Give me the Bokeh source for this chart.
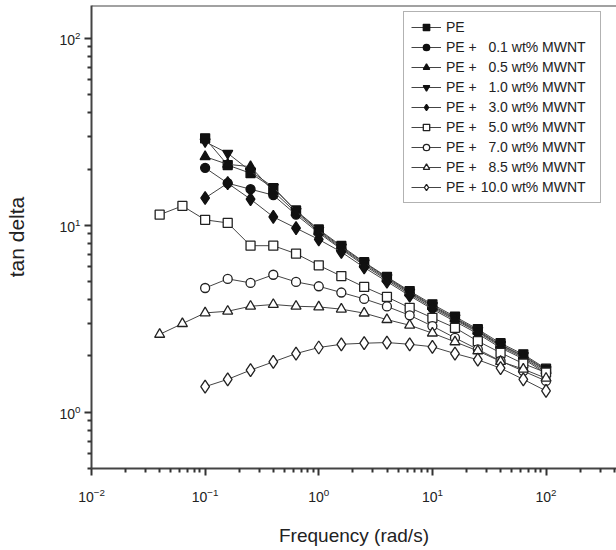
from bokeh.plotting import figure
from bokeh.models import Span, Legend, LegendItem, FixedTicker
from bokeh.embed import file_html
from bokeh.resources import INLINE

# ---- data ----
freq = [0.1, 0.158, 0.251, 0.398, 0.631, 1.0, 1.58, 2.51, 3.98, 6.31,
        10.0, 15.8, 25.1, 39.8, 63.1, 100.0]
freq_ext = [0.0398, 0.0631] + freq

pe = [29.2, 21.0, 19.0, 15.8, 12.0, 9.5, 7.75, 6.35, 5.3, 4.45,
      3.78, 3.25, 2.78, 2.34, 2.04, 1.71]
pe_01 = [20.3, 16.8, 15.6, 14.5, 11.4, 9.1, 7.45, 6.1, 5.1, 4.28,
         3.62, 3.12, 2.68, 2.25, 1.96, 1.64]
pe_05 = [23.3, 21.2, 20.6, 15.2, 11.7, 9.25, 7.55, 6.2, 5.18, 4.35,
         3.68, 3.16, 2.71, 2.28, 1.99, 1.67]
pe_10 = [28.0, 24.3, 19.5, 16.0, 11.9, 9.4, 7.65, 6.3, 5.25, 4.4,
         3.72, 3.2, 2.74, 2.3, 2.01, 1.69]
pe_30 = [14.0, 16.8, 13.8, 11.1, 9.66, 8.4, 7.2, 5.95, 5.0, 4.2,
         3.56, 3.06, 2.63, 2.21, 1.93, 1.61]
pe_50 = [11.4, 12.7, 10.7, 10.3, 7.78, 7.78, 7.05, 6.11, 5.35, 4.68,
         4.14, 3.62, 3.2, 2.83, 2.4, 2.08, 1.82, 1.63]
pe_70 = [4.62, 5.17, 4.92, 5.44, 4.98, 4.72, 4.37, 4.04, 3.68, 3.3,
         2.89, 2.5, 2.17, 1.88, 1.66, 1.47]
pe_85 = [2.61, 2.98, 3.40, 3.47, 3.69, 3.77, 3.69, 3.66, 3.56, 3.39,
         3.13, 2.92, 2.65, 2.38, 2.13, 1.87, 1.70, 1.52]
pe_100 = [1.37, 1.50, 1.68, 1.86, 2.06, 2.22, 2.31, 2.34, 2.36, 2.31,
          2.24, 2.06, 1.91, 1.72, 1.50, 1.30]

labels = ["PE",
          "PE + \u20070.1 wt% MWNT",
          "PE + \u20070.5 wt% MWNT",
          "PE + \u20071.0 wt% MWNT",
          "PE + \u20073.0 wt% MWNT",
          "PE + \u20075.0 wt% MWNT",
          "PE + \u20077.0 wt% MWNT",
          "PE + \u20078.5 wt% MWNT",
          "PE + 10.0 wt% MWNT"]

x_major = [0.01, 0.1, 1, 10, 100]
y_major = [1, 10, 100]
mults = [2, 3, 4, 5, 6, 7, 8, 9]

series = [
    (freq, pe, "square", 9, True),
    (freq, pe_01, "circle", 9, True),
    (freq, pe_05, "triangle", 10, True),
    (freq, pe_10, "inverted_triangle", 10, True),
    (freq, pe_30, "diamond", 13, True),
    (freq_ext, pe_50, "square", 9, False),
    (freq, pe_70, "circle", 9, False),
    (freq_ext, pe_85, "triangle", 10, False),
    (freq, pe_100, "diamond", 13, False),
]

FONT = "Liberation Sans"
AX = "#444444"
TXT = "#222222"

p = figure(width=616, height=550, x_axis_type="log", y_axis_type="log",
           x_range=(0.01, 417), y_range=(0.5, 150),
           output_backend="svg", toolbar_location=None,
           min_border_left=91, min_border_right=0,
           min_border_top=5, min_border_bottom=82)
p.xgrid.visible = False
p.ygrid.visible = False
p.outline_line_color = None
p.background_fill_color = "white"
p.border_fill_color = "white"

x_minor = [m * d for d in x_major + [1000] for m in mults]
y_minor = [m * d for d in [0.1] + y_major for m in mults]
p.xaxis.ticker = FixedTicker(ticks=x_major, minor_ticks=x_minor)
p.yaxis.ticker = FixedTicker(ticks=y_major, minor_ticks=y_minor)
for ax in (p.xaxis[0], p.yaxis[0]):
    ax.axis_line_color = AX
    ax.axis_line_width = 2
    ax.major_tick_line_color = "#333333"
    ax.major_tick_line_width = 2
    ax.minor_tick_line_color = "#333333"
    ax.minor_tick_line_width = 2
    ax.major_tick_in = 0
    ax.major_tick_out = 7
    ax.minor_tick_in = 0
    ax.minor_tick_out = 4
    ax.major_label_text_font = FONT
    ax.major_label_text_font_size = "14px"
    ax.major_label_text_color = TXT
    ax.axis_label_text_font = FONT
    ax.axis_label_text_font_style = "normal"
    ax.axis_label_text_color = TXT

p.xaxis.axis_label = "Frequency (rad/s)"
p.xaxis.axis_label_text_font_size = "19px"
p.xaxis.major_label_standoff = 12
p.xaxis.axis_label_standoff = 20
p.yaxis.axis_label = "tan delta"
p.yaxis.axis_label_text_font_size = "21px"
p.yaxis.major_label_standoff = 4
p.yaxis.axis_label_standoff = 28

# top frame line (the reference has no right border)
p.add_layout(Span(location=p.y_range.end, dimension="width",
                  line_color=AX, line_width=2))

items = []
for (xs, ys, marker, size, filled), lab in zip(series, labels):
    ln = p.line(xs, ys, line_color="#444444", line_width=1)
    sc = p.scatter(xs, ys, marker=marker, size=size,
                   fill_color="#111111" if filled else "white",
                   line_color="#111111" if filled else "#222222",
                   line_width=1.3)
    items.append(LegendItem(label=lab, renderers=[ln, sc]))

legend = Legend(items=items, location=(312, 265),
                border_line_color="#666666", border_line_width=1.5,
                background_fill_color="white", background_fill_alpha=1.0,
                label_text_font=FONT, label_text_font_size="14px",
                label_text_color=TXT,
                glyph_width=30, glyph_height=16, label_height=16,
                spacing=4, padding=7, margin=0, label_standoff=5,
                label_width=147)
p.add_layout(legend)

open("out.html", "w").write(file_html(p, INLINE))
